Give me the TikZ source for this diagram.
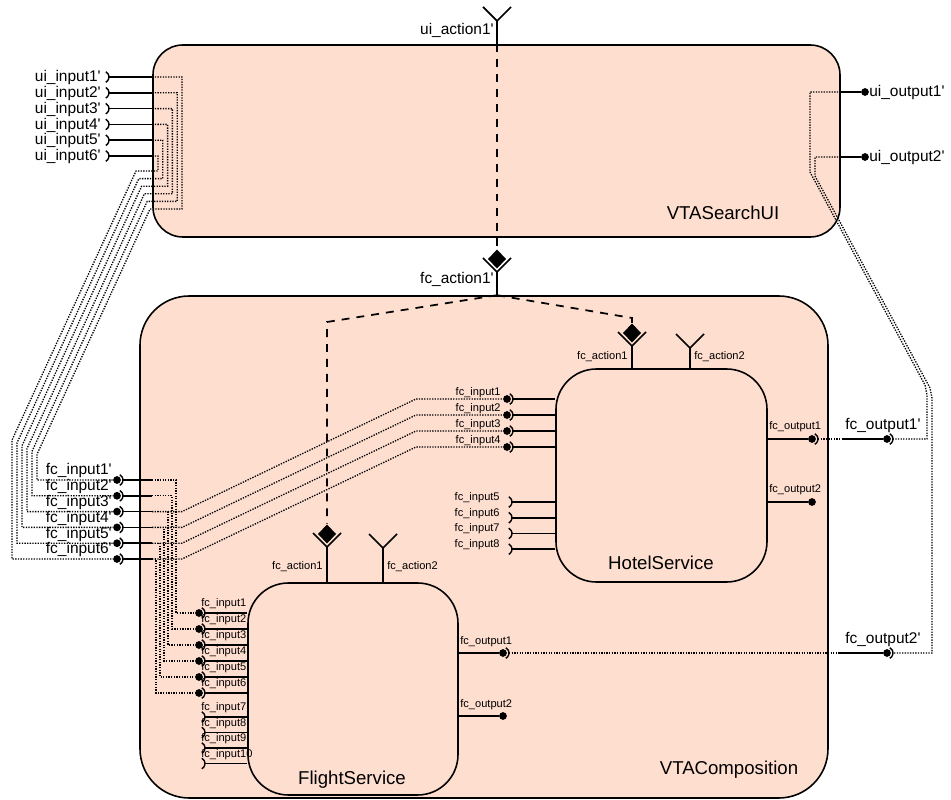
\documentclass[tikz,border=0pt]{standalone}
\usepackage{fontspec}
\setmainfont{Liberation Sans}[Ligatures=TeXOff]
\usetikzlibrary{fit}
\definecolor{compfill}{RGB}{254,222,207}

\begin{document}
\begin{tikzpicture}[x=0.02cm, y=-0.02cm,
  comp/.style={draw, fill=compfill, line width=0.9pt, inner sep=0pt},
  wire/.style={line width=1pt},
  link/.style={line width=0.75pt, dash pattern=on 0.75pt off 0.75pt},
  bind/.style={line width=1pt, dash pattern=on 4.5pt off 4pt},
  knob/.style={circle, fill, inner sep=0pt, minimum size=4.4pt},
  lbl/.style={font=\fontsize{8.8}{10}\selectfont, inner sep=0pt},
  tinylbl/.style={font=\fontsize{6.3}{7}\selectfont, inner sep=0pt},
  ttl/.style={font=\fontsize{10.6}{12}\selectfont, inner sep=0pt},
  cup/.pic={\draw[line width=0.8pt] (-62:3.4pt) arc (-62:62:3.4pt);},
  fork/.pic={\draw[wire] (-14,-14) -- (0,0) -- (14,-14);},
  gem/.pic={\draw[wire] (-14,-14) -- (0,0) -- (14,-14);
            \fill (0,-3.5) -- (9,-13) -- (0,-22.5) -- (-9,-13) -- cycle;}]
  \useasboundingbox (0,0) rectangle (951,800);

  % components
  \node[comp, rounded corners=17pt, fit={(153,45) (840,237)}] (ui) {};
  \node[comp, rounded corners=28pt, fit={(140,296) (828,798)}] (vta) {};
  \node[comp, rounded corners=23pt, fit={(556,369) (767,582)}] (hotel) {};
  \node[comp, rounded corners=23pt, fit={(248,583) (458,795)}] (flight) {};
  \node[ttl, anchor=base] (uiname) at (723,220) {VTASearchUI};
  \node[ttl, anchor=base] (vtaname) at (729,775) {VTAComposition};
  \node[ttl, anchor=base] (hotelname) at (661,570) {HotelService};
  \node[ttl, anchor=base] (flightname) at (352,785) {FlightService};

  % composition inputs fc_input1'..6'
  \foreach \i [evaluate=\i as \y using 480+(\i-1)*15.8] in {1,...,6}{
    \node[knob] (cin\i) at (117,\y) {};
    \pic at (cin\i) {cup};
    \node[lbl, anchor=base east] (cinl\i) at (112,\y-5) {fc\_input\i'};
    \draw[wire] ([xshift=3.4pt]cin\i.center) -- (152,\y);
  }

  % flight inputs
  \foreach \k [evaluate=\k as \y using 613+(\k-1)*16] in {1,...,6}{
    \node[knob] (fin\k) at (199,\y) {};
    \pic at (fin\k) {cup};
    \draw[wire] ([xshift=3.4pt]fin\k.center) -- (fin\k -| flight.west);
    \node[tinylbl, anchor=base west] (finl\k) at (201,\y-6) {fc\_input\k};
  }
  \foreach \k [evaluate=\k as \y using 717+(\k-7)*15.5] in {7,...,10}{
    \pic at (199,\y) {cup};
    \coordinate (fin\k) at (205,\y);
    \draw[wire] (fin\k) -- (fin\k -| flight.west);
    \node[tinylbl, anchor=base west] (finl\k) at (201,\y-6) {fc\_input\k};
  }

  % hotel inputs
  \foreach \j [evaluate=\j as \y using 399+(\j-1)*16] in {1,...,4}{
    \node[knob] (hin\j) at (507,\y) {};
    \pic at (hin\j) {cup};
    \draw[wire] ([xshift=3.4pt]hin\j.center) -- (hin\j -| hotel.west);
    \node[tinylbl, anchor=base east] (hinl\j) at (501,\y-3) {fc\_input\j};
  }
  \foreach \j [evaluate=\j as \y using 502+(\j-5)*15.7] in {5,...,8}{
    \pic at (506,\y) {cup};
    \coordinate (hin\j) at (512,\y);
    \draw[wire] (hin\j) -- (hin\j -| hotel.west);
    \node[tinylbl, anchor=base east] (hinl\j) at (500,\y-1.5) {fc\_input\j};
  }

  % search ui inputs, routed out to the composition
  \foreach \i [evaluate=\i as \y using 77+(\i-1)*15.8] in {1,...,6}{
    \node[lbl, anchor=base east] (uinl\i) at (101,\y+4.7) {ui\_input\i'};
    \pic at (103,\y) {cup};
    \coordinate (uin\i) at (109,\y);
    \draw[wire] (uin\i) -- (uin\i -| ui.west);
    \pgfmathsetmacro\xc{182-(\i-1)*4.8}
    \pgfmathsetmacro\yb{209-(\i-1)*7.6}
    \pgfmathsetmacro\xl{150-(\i-1)*2.8}
    \pgfmathsetmacro\xd{37-(\i-1)*5}
    \pgfmathsetmacro\yd{\yb+(\xl-\xd)*2.17}
    \draw[link] (uin\i -| ui.west) -- (\xc,\y) -- (\xc,\yb) -- (\xl,\yb)
      -- (\xd,\yd) |- (cin\i);
  }

  % inside the composition
  \foreach \k [evaluate=\k as \y using 480+(\k-1)*15.8,
               evaluate=\k as \c using 176-(\k-1)*4] in {1,...,6}
    \draw[link] (152,\y) -- (\c,\y) |- (fin\k);
  \foreach \k [evaluate=\k as \y using 480+(\k-1)*15.8,
               evaluate=\k as \j using int(\k-2)] in {3,...,6}
    \draw[link] (152,\y) -- (182,\y) -- (416,{399+(\j-1)*16}) -- (hin\j);

  % outputs
  \node[knob] (hout1) at (812,439) {};
  \pic at (hout1) {cup};
  \draw[wire] (hout1 -| hotel.east) -- (hout1);
  \node[tinylbl, anchor=base west] (houtl1) at (769,430) {fc\_output1};
  \node[knob] (hout2) at (812,502) {};
  \draw[wire] (hout2 -| hotel.east) -- (hout2);
  \node[tinylbl, anchor=base west] (houtl2) at (769,493) {fc\_output2};

  \node[knob] (fout1) at (503,653) {};
  \pic at (fout1) {cup};
  \draw[wire] (fout1 -| flight.east) -- (fout1);
  \node[tinylbl, anchor=base west] (foutl1) at (460,645) {fc\_output1};
  \node[knob] (fout2) at (503,716) {};
  \draw[wire] (fout2 -| flight.east) -- (fout2);
  \node[tinylbl, anchor=base west] (foutl2) at (460,708) {fc\_output2};

  \node[knob] (cout1) at (887,439) {};
  \pic at (cout1) {cup};
  \coordinate (cout1in) at (842,439);
  \draw[wire] (cout1in) -- (cout1);
  \node[lbl, anchor=base west] (coutl1) at (845,430) {fc\_output1'};
  \node[knob] (cout2) at (887,653) {};
  \pic at (cout2) {cup};
  \coordinate (cout2in) at (840,653);
  \draw[wire] (cout2in) -- (cout2);
  \node[lbl, anchor=base west] (coutl2) at (845,643.5) {fc\_output2'};
  \draw[link] ([xshift=3.4pt]hout1.center) -- (cout1in);
  \draw[link] ([xshift=3.4pt]fout1.center) -- (cout2in);

  \node[knob] (uout1) at (865,92) {};
  \draw[wire] (uout1 -| ui.east) -- (uout1);
  \node[lbl, anchor=base west] (uoutl1) at (869,97) {ui\_output1'};
  \node[knob] (uout2) at (865,157) {};
  \draw[wire] (uout2 -| ui.east) -- (uout2);
  \node[lbl, anchor=base west] (uoutl2) at (869,162) {ui\_output2'};
  \draw[link] (uout1 -| ui.east) -- (810,92) -- (810,172) -- (925,385)
    -- (927,395) |- ([xshift=3.4pt]cout1.center);
  \draw[link] (uout2 -| ui.east) -- (815,157) -- (815,176) -- (930,388)
    -- (932,398) |- ([xshift=3.4pt]cout2.center);

  % actions
  \coordinate (uiact) at (497,21);
  \pic at (uiact) {fork};
  \draw[wire] (uiact) -- (uiact |- ui.north);
  \node[lbl, anchor=base east] (uiactl) at (494,35) {ui\_action1'};
  \coordinate (vtaact) at (497,272);
  \pic at (vtaact) {gem};
  \draw[wire] (vtaact) -- (vtaact |- vta.north);
  \node[lbl, anchor=base east] (vtaactl) at (494,284) {fc\_action1'};
  \draw[bind] (uiact |- ui.north) -- (497,249);

  \coordinate (hact1) at (632,346);
  \pic at (hact1) {gem};
  \draw[wire] (hact1) -- (hact1 |- hotel.north);
  \coordinate (hact2) at (690,348);
  \pic at (hact2) {fork};
  \draw[wire] (hact2) -- (hact2 |- hotel.north);
  \node[tinylbl, anchor=base east] (hactl1) at (628,360) {fc\_action1};
  \node[tinylbl, anchor=base west] (hactl2) at (694,360) {fc\_action2};

  \coordinate (fact1) at (327,547);
  \pic at (fact1) {gem};
  \draw[wire] (fact1) -- (fact1 |- flight.north);
  \coordinate (fact2) at (383,548);
  \pic at (fact2) {fork};
  \draw[wire] (fact2) -- (fact2 |- flight.north);
  \node[tinylbl, anchor=base east] (factl1) at (323,570) {fc\_action1};
  \node[tinylbl, anchor=base west] (factl2) at (387,570) {fc\_action2};

  \draw[bind] (vtaact |- vta.north) -- (632,318) -- (632,323);
  \draw[bind] (vtaact |- vta.north) -- (327,322) -- (327,524);
\end{tikzpicture}
\end{document}
